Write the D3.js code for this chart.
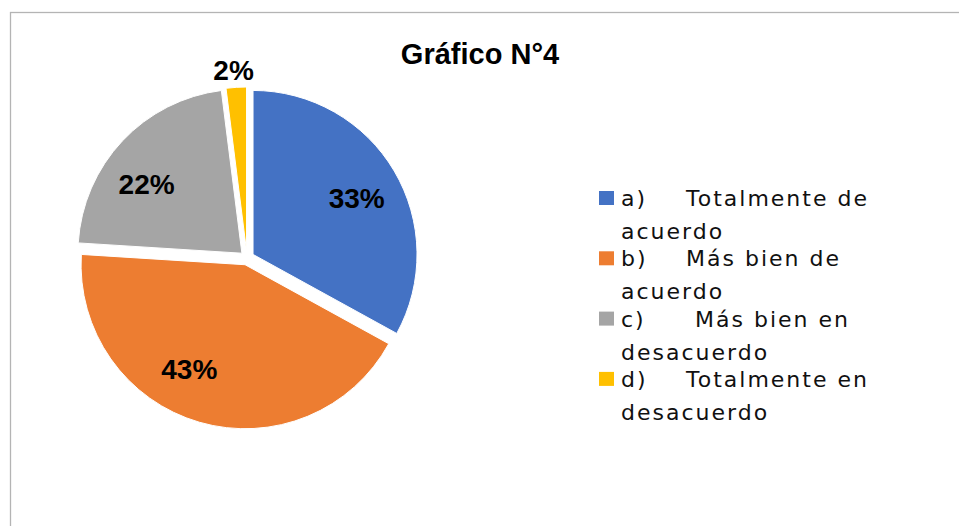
<!DOCTYPE html>
<html>
<head>
<meta charset="utf-8">
<script src="https://cdn.jsdelivr.net/npm/d3@7"></script>
<style>
  body { margin:0; background:#fff; }
  svg { display:block; }
  .lbl { font-family:"Liberation Sans", Arial, sans-serif; font-weight:bold; fill:#000; }
  .leg { font-family:"DejaVu Sans", sans-serif; fill:#111; font-size:22px; letter-spacing:2px; white-space:pre; }
</style>
</head>
<body>
<div id="chart"></div>
<script>
// data
let categories = ['a)', 'b)', 'c)', 'd)'];
let legendText = [['Totalmente de', 'acuerdo'], ['Más bien de', 'acuerdo'], [' Más bien en', 'desacuerdo'], ['Totalmente en', 'desacuerdo']];
let percents = [33, 43, 22, 2];
let sliceColors = ['#4472C4', '#ED7D31', '#A5A5A5', '#FFC000'];
let chartTitle = 'Gráfico N°4';

let sizes = {width:959, height:526, cx:247, cy:258, r:164, explode:7};

let svg = d3.select('#chart').append('svg')
    .attr('width', sizes.width)
    .attr('height', sizes.height);

// chart frame (right and bottom edges fall outside the picture)
svg.append('rect')
    .attr('x', 10.5).attr('y', 12.5)
    .attr('width', 1000).attr('height', 700)
    .attr('fill', 'none')
    .attr('stroke', '#b4b4b4')
    .attr('stroke-width', 1.3);

svg.append('text')
    .attr('class', 'lbl')
    .attr('x', 480).attr('y', 64)
    .attr('text-anchor', 'middle')
    .style('font-size', '29px')
    .text(chartTitle);

let pie = d3.pie().sort(null).value(d => d);
let arcs = pie(percents);
let arc = d3.arc().innerRadius(0).outerRadius(sizes.r);

function mid(d) { return (d.startAngle + d.endAngle) / 2; }

let gs = svg.selectAll('g.slice')
    .data(arcs)
    .enter()
    .append('g')
    .attr('class', 'slice')
    .attr('transform', function(d) {
        let a = mid(d);
        let x = sizes.cx + sizes.explode * Math.sin(a);
        let y = sizes.cy - sizes.explode * Math.cos(a);
        return 'translate(' + x + ',' + y + ')';
    });

gs.append('path')
    .attr('d', arc)
    .attr('fill', (d, i) => sliceColors[i])
    .attr('stroke', '#fff')
    .attr('stroke-width', 1);

// excel "best fit" doesn't sit exactly on the bisector, turn a bit (degrees)
let labelTurn = [2, 12, -7, -0.5];

gs.append('text')
    .attr('class', 'lbl')
    .style('font-size', '28px')
    .attr('text-anchor', 'middle')
    .attr('dy', '0.36em')
    .attr('transform', function(d, i) {
        let a = mid(d) + labelTurn[i] * Math.PI / 180;
        let rr = (d.data < 5) ? sizes.r * 1.11 : sizes.r * 0.72;
        return 'translate(' + (rr * Math.sin(a)) + ',' + (-rr * Math.cos(a)) + ')';
    })
    .text(d => d.data + '%');

// legend
let leg = svg.append('g').attr('transform', 'translate(599,191)');
let items = leg.selectAll('g')
    .data(categories)
    .enter()
    .append('g')
    .attr('transform', (d, i) => 'translate(0,' + (i * 60.3) + ')');

items.append('rect')
    .attr('width', 15).attr('height', 14)
    .attr('fill', (d, i) => sliceColors[i]);

items.append('text')
    .attr('class', 'leg')
    .attr('x', 22).attr('y', 15)
    .text(d => d);

items.append('text')
    .attr('class', 'leg')
    .attr('x', 87).attr('y', 15)
    .text((d, i) => legendText[i][0]);

items.append('text')
    .attr('class', 'leg')
    .attr('x', 22).attr('y', 48)
    .text((d, i) => legendText[i][1]);
</script>
</body>
</html>
